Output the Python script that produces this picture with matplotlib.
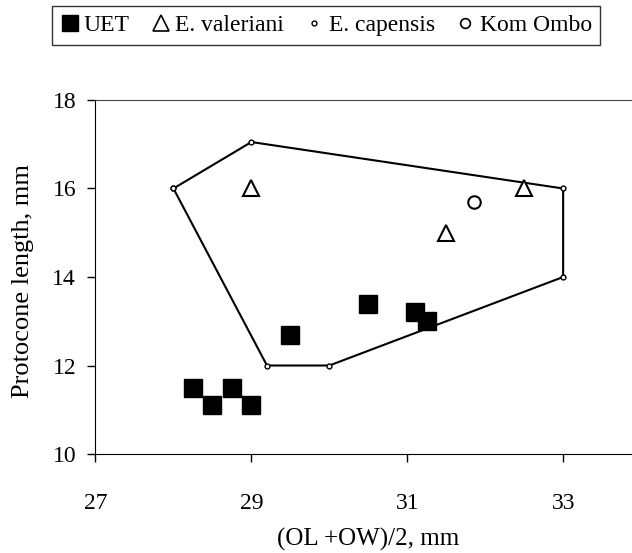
import matplotlib
matplotlib.use("Agg")
import matplotlib.pyplot as plt
from matplotlib.lines import Line2D

plt.rcParams["font.family"] = ["Liberation Serif", "DejaVu Serif"]

# UET
uet_x = [28.25, 28.5, 28.75, 29.0, 29.5, 30.5, 31.1, 31.25]
uet_y = [11.5, 11.1, 11.5, 11.1, 12.7, 13.4, 13.2, 13.0]

# E. valeriani
val_x = [29.0, 31.5, 32.5]
val_y = [16.0, 15.0, 16.0]

# E. capensis (hull points)
cap_x = [28.0, 29.0, 33.0, 33.0, 30.0, 29.2, 28.0]
cap_y = [16.0, 17.05, 16.0, 14.0, 12.0, 12.0, 16.0]

# Kom Ombo
kom_x = [31.85]
kom_y = [15.7]

x_ticks = [27, 29, 31, 33]
y_ticks = [10, 12, 14, 16, 18]

fig = plt.figure(figsize=(6.32, 5.53), dpi=100)
ax = fig.add_axes([0.1511, 0.179, 0.9866, 0.6402])

ax.plot(cap_x, cap_y, color="black", lw=1.5, marker="o", ms=3.5,
        mfc="white", mec="black", mew=1.0, zorder=2)
ax.plot(uet_x, uet_y, ls="none", marker="s", ms=13, color="black", zorder=3)
ax.plot(val_x, val_y, ls="none", marker="^", ms=12, mfc="white",
        mec="black", mew=1.5, zorder=3)
ax.plot(kom_x, kom_y, ls="none", marker="o", ms=9, mfc="white",
        mec="black", mew=1.5, zorder=3)

ax.set_xlim(27, 35)
ax.set_ylim(10, 18)
ax.set_xticks(x_ticks)
ax.set_yticks(y_ticks)
ax.tick_params(axis="x", direction="out", length=6, width=1, pad=22, labelsize=17)
ax.tick_params(axis="y", direction="out", length=6, width=1, pad=8, labelsize=17)

ax.spines["right"].set_visible(False)
ax.spines["top"].set_color("#444444")
for s in ["left", "bottom"]:
    ax.spines[s].set_color("black")

ax.set_xlabel("(OL +OW)/2, mm", fontsize=18)
ax.xaxis.set_label_coords(0.437, -0.240)
ax.xaxis.label.set_va("center")
ax.set_ylabel("Protocone length, mm", fontsize=19)
ax.yaxis.set_label_coords(-0.116, 0.489)
ax.yaxis.label.set_va("center")

handles = [
    Line2D([], [], ls="none", marker="s", ms=11, color="black"),
    Line2D([], [], ls="none", marker="^", ms=11, mfc="white", mec="black", mew=1.2),
    Line2D([], [], ls="none", marker="o", ms=3.5, mfc="white", mec="black", mew=1.0),
    Line2D([], [], ls="none", marker="o", ms=7, mfc="white", mec="black", mew=1.2),
]
labels = ["UET", "E. valeriani", "E. capensis", "Kom Ombo"]
leg = fig.legend(handles, labels, ncol=4, loc="center",
                 bbox_to_anchor=(326 / 632, 1 - 25.5 / 553), fontsize=17,
                 frameon=True, fancybox=False, edgecolor="black",
                 handlelength=0.8, handletextpad=0.2, columnspacing=0.9,
                 borderpad=0.35)
leg.get_frame().set_linewidth(1.0)

fig.savefig("out.png", dpi=100)
